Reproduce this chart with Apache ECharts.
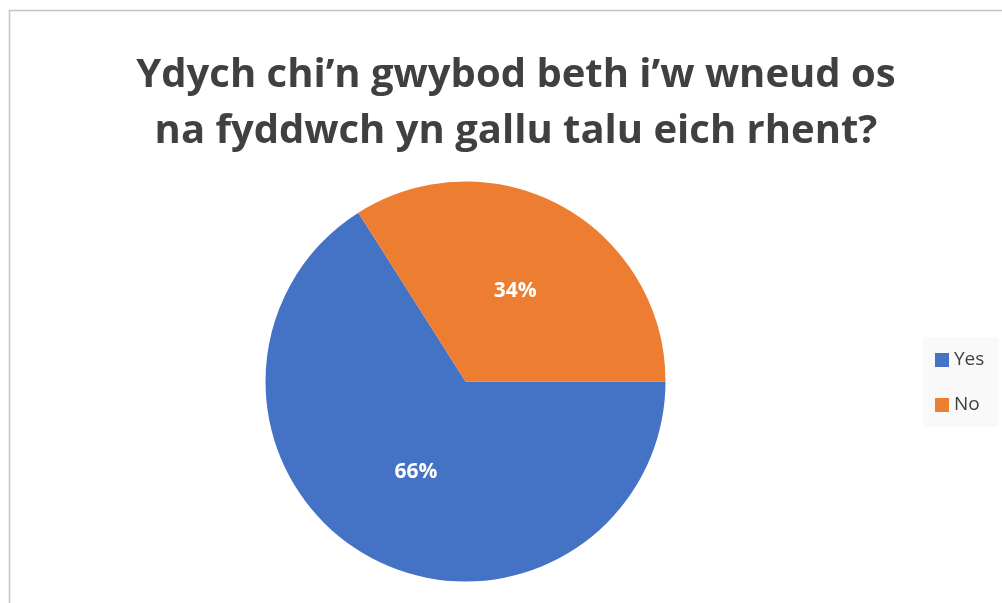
<!DOCTYPE html>
<html>
<head>
<meta charset="utf-8">
<script src="https://cdn.jsdelivr.net/npm/echarts@6/dist/echarts.min.js"></script>
<style>
  html, body { margin: 0; padding: 0; background: #fff; }
  #myChart { width: 1002px; height: 603px; }
</style>
</head>
<body>
<div id="myChart"></div>
<script>
var titleLines = ['Ydych chi’n gwybod beth i’w wneud os', 'na fyddwch yn gallu talu eich rhent?']
var categories = ['Yes', 'No']
var percentValues = [66, 34]
var sliceColors = ['#4472c4', '#ed7d31']

var myChart = echarts.init(document.getElementById('myChart'))

var pieData = categories.map(function(name, i) {
  return { name: name, value: percentValues[i], itemStyle: { color: sliceColors[i] } }
})

var option = {
  animation: false,
  backgroundColor: '#fff',
  graphic: [
    {
      type: 'rect',
      shape: { x: 9.5, y: 10.5, width: 1000, height: 700 },
      style: { fill: 'none', stroke: '#c4c4c4', lineWidth: 1.5 },
      silent: true
    }
  ],
  title: {
    text: titleLines.join('\n'),
    left: 511,
    top: 43,
    textAlign: 'center',
    textStyle: {
      fontFamily: 'Open Sans',
      fontWeight: 'bold',
      fontSize: 40,
      lineHeight: 56,
      color: '#404040'
    }
  },
  legend: {
    orient: 'vertical',
    left: 923,
    top: 337,
    backgroundColor: '#f9f9f9',
    padding: [13, 14, 12, 12],
    itemWidth: 14,
    itemHeight: 14,
    itemGap: 25,
    icon: 'rect',
    textStyle: {
      fontFamily: 'Open Sans',
      fontSize: 19,
      lineHeight: 20,
      color: '#404040'
    },
    data: categories
  },
  series: [
    {
      type: 'pie',
      center: [465.5, 381.5],
      radius: 200,
      startAngle: 0,
      clockwise: true,
      label: {
        show: true,
        position: 'inner',
        formatter: '{d}%',
        color: '#fff',
        fontFamily: 'Open Sans',
        fontWeight: 'bold',
        fontSize: 21
      },
      labelLine: { show: false },
      emphasis: { disabled: true },
      data: pieData
    }
  ]
}

myChart.setOption(option)
</script>
</body>
</html>
